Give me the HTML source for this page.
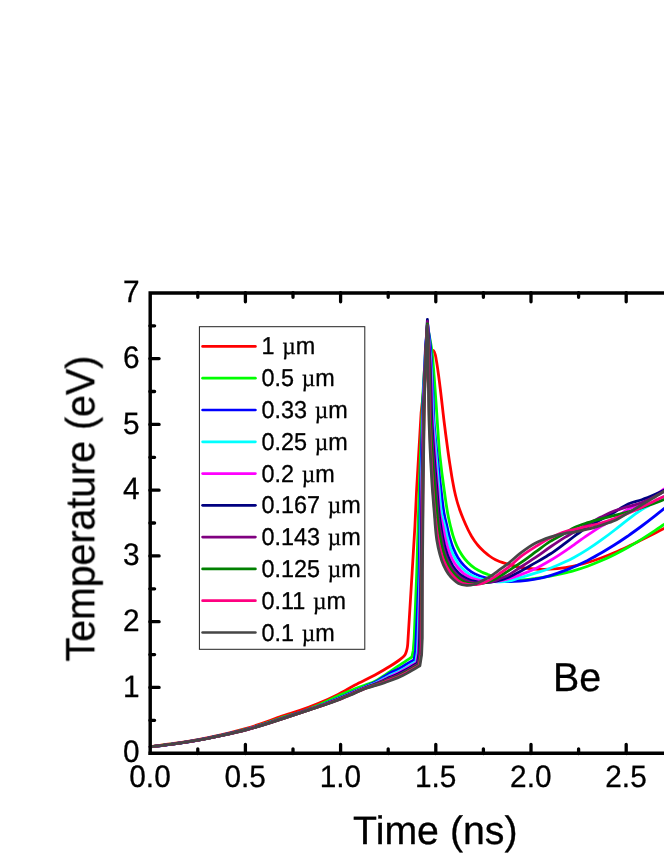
<!DOCTYPE html>
<html><head><meta charset="utf-8"><title>Temperature vs Time (Be)</title>
<style>
html,body{margin:0;padding:0;background:#fff;}
body{width:664px;height:860px;overflow:hidden;font-family:"Liberation Sans",sans-serif;}
svg{display:block;position:absolute;left:0;top:0;}
svg text{text-rendering:geometricPrecision;}
</style></head><body>
<svg width="664" height="860" viewBox="0 0 664 860">
<defs><mask id="tm" maskUnits="userSpaceOnUse" x="0" y="0" width="664" height="860"><rect width="664" height="860" fill="#fff"/></mask></defs>
<rect width="664" height="860" fill="#fff"/>
<g fill="none" stroke-width="2.8" stroke-linejoin="round" stroke-linecap="round">
<path stroke="#ff0000" d="M150.2 746.7C158.1 745.6 166.1 744.7 174 743.5C182.1 742.3 190.2 741.1 198.2 739.6C206.2 738.1 214.1 736.4 222 734.6C230.2 732.7 238.3 730.8 246.4 728.4C254.3 726.1 262.2 723.4 270 720.6C273.3 719.4 276.6 718 280 716.8C286.6 714.4 293.4 712.7 300 710.4C306.1 708.3 312.1 706.1 318 703.6C324.8 700.8 331.5 697.7 338 694.4C343.8 691.5 349.3 688 355 685C361.6 681.5 368.5 678.6 375 675C380.1 672.2 385.1 669.4 390 666.3C392.7 664.6 395.4 662.9 398 661C399.4 660 400.9 659 402.2 657.8C403.3 656.8 404.4 655.7 405.2 654.4C405.9 653.3 406.2 652 406.6 650.7C407 649.3 407.3 647.8 407.5 646.4C407.9 643.6 407.9 640.8 408.1 638L412.1 573L414.9 526.5L416.6 490L421.1 413L424.3 385L426.3 369C427.2 365.1 427.6 361 429 357.2C429.7 355.4 430 353.1 431.3 351.8C431.8 351.3 432.7 350.4 433.2 350.4C433.9 350.4 434.4 352.2 434.8 353.2C435.7 355.2 435.8 357.5 436.2 359.6C437 363.9 437.6 368.3 438.2 372.6C438.9 377.2 439.4 381.9 440 386.5C440.8 392.7 441.5 398.9 442.2 405.1C442.8 410.1 443.3 415 443.9 420C444.5 425 445.2 430 445.8 435C446.5 440 447.1 445 447.8 450C448.5 455 449.2 460 450 465C450.8 470 451.5 475 452.4 480C453 483.3 453.6 486.7 454.3 490C455 493.4 455.8 496.7 456.7 500C457.6 503.4 458.7 506.7 459.8 510C461 513.4 462.3 516.7 463.7 520C465.1 523.4 466.6 526.7 468.2 530C469.2 532 470.3 534 471.4 536C472.4 537.7 473.5 539.4 474.6 541C475.7 542.5 476.9 544.1 478.1 545.5C479.3 546.9 480.6 548.2 481.9 549.5C483.2 550.8 484.5 552 485.9 553.1C487.1 554.1 488.3 555.1 489.5 556C491.4 557.4 493.4 558.7 495.5 559.8C499.4 561.9 503.8 562.9 508 564.2C512 565.4 516 566.5 520.1 567.3C525.1 568.2 530.1 568.7 535.2 569C540.2 569.4 545.2 569.4 550.2 569.2C555.2 569 560.3 568.4 565.3 567.6C570.4 566.9 575.4 565.8 580.4 564.5C582.8 563.9 585.2 563.2 587.6 562.5C592.1 561.2 596.6 559.6 601.1 558C605.7 556.3 610.2 554.5 614.7 552.5C619.2 550.6 623.7 548.5 628.2 546.4C632.8 544.3 637.3 542 641.8 539.8C646.3 537.5 650.8 535.2 655.3 532.9C658.2 531.4 661.1 529.9 664 528.5C669.3 525.8 674.7 523.4 680 520.9"/>
<path stroke="#00ff00" d="M150.2 746.8C158.1 745.8 166.1 744.8 174 743.7C182.1 742.5 190.2 741.3 198.2 739.9C206.2 738.5 214.1 736.8 222 735.1C230.2 733.3 238.3 731.4 246.4 729.2C254.3 727 262.2 724.6 270 721.9C273.4 720.7 276.6 719.4 280 718.2C286.6 715.9 293.4 714.5 300 712.2C306.1 710.1 312.1 707.7 318 705.2C324.8 702.4 331.3 699 338 696C343.6 693.5 349.3 690.9 355 688.7C359 687.2 363 685.9 367 684.4C369.7 683.4 372.4 682.5 375 681.2C378.2 679.6 381 677.5 384 675.6C386 674.3 388 672.9 390 671.6C392.7 669.8 395.3 668 398 666.2C400.8 664.3 403.6 662.5 406.4 660.6C408.2 659.4 410.1 658.2 411.9 657L413.2 650.7L414.2 638L416.7 573L419.5 480L422.5 400L425.5 352L428.8 333C429.8 338.4 430.9 343.8 431.7 349.3C432.6 355.5 433 361.7 433.5 367.9C434 374.1 434.4 380.3 434.9 386.5C435.3 392.7 435.8 398.9 436.2 405.1C436.5 410.1 436.9 415 437.2 420C438 431.7 438.6 443.4 439.8 455C441 466.7 442.5 478.4 444.2 490C445.5 499.4 446.6 508.8 448.6 518C449.1 520.3 449.6 522.7 450.2 525C451.1 528.5 451.9 532.1 453 535.6C454.1 539.1 455.3 542.8 456.9 546.1C458.4 549.4 460.2 552.6 462.3 555.6C463.9 557.9 465.7 560.3 467.7 562.3C469.9 564.6 472.4 566.7 475 568.4C477.3 569.9 479.7 571.1 482.2 572.2C484.1 573.1 486.1 573.7 488 574.5C491.1 575.7 494.1 577.2 497.3 578.1C501.4 579.4 505.7 580.3 510 580.6C514 580.8 518 580.4 522 580C526.4 579.7 530.8 579 535.2 578.5C540.2 577.8 545.2 577.1 550.2 576.2C555.3 575.3 560.3 574.2 565.3 573C568.2 572.2 571.1 571.5 574 570.6C578.6 569.3 583.1 567.8 587.6 566.2C592.2 564.5 596.7 562.7 601.1 560.8C605.7 558.8 610.2 556.7 614.7 554.4C619.3 552.1 623.8 549.7 628.2 547.2C632.8 544.6 637.3 541.9 641.8 539.1C646.4 536.3 650.8 533.4 655.3 530.4C658.2 528.4 661.1 526.4 664 524.5C669.3 520.8 674.7 517.2 680 513.5"/>
<path stroke="#0000ff" d="M150.2 746.9C158.1 745.9 166.1 744.9 174 743.8C182.1 742.6 190.2 741.4 198.2 740C206.2 738.6 214.1 736.9 222 735.2C230.2 733.4 238.3 731.6 246.4 729.4C254.3 727.3 262.2 724.8 270 722.3C274.5 720.9 279.1 719.4 283.6 717.9C288.1 716.4 292.6 714.9 297.1 713.4C301.6 711.9 306.2 710.4 310.7 708.8C315.2 707.2 319.7 705.7 324.2 704C328.8 702.2 333.3 700.3 337.8 698.4C342.3 696.5 346.8 694.5 351.3 692.6C354.2 691.4 357.1 690.3 360 689C362.4 688 364.7 686.9 367 685.8C369.7 684.6 372.4 683.5 375 682.2C378.1 680.6 381 678.6 384 676.8C386 675.6 387.9 674.2 390 673C392.6 671.6 395.4 670.6 398 669.2C400.9 667.7 403.6 665.9 406.4 664.3C408.1 663.3 409.8 662.3 411.5 661.3C412.3 660.8 413.2 660.4 414 659.9L415.5 650.7L416.1 638L419.1 573L420.7 480L423 400L425.6 345L427.6 324C428.5 331 429.6 338 430.3 345C431 352.6 431.3 360.3 431.7 368C432.2 377.3 432.7 386.5 433.1 395.8C433.4 403.9 433.4 411.9 433.9 420C434.6 431.7 435.9 443.3 437.1 455C438.3 466.5 439.5 478 441 489.5C442.2 498.7 442.8 508 444.8 517C445.3 519.3 445.9 521.7 446.5 524C447.6 528.5 448.4 533.1 449.7 537.6C450.8 541.2 451.8 544.9 453.3 548.4C454.6 551.5 456 554.6 457.8 557.4C459.6 560.3 461.7 563.1 464.1 565.6C466.3 567.9 468.7 570.2 471.4 571.9C473.6 573.4 476.1 574.5 478.6 575.5C480.4 576.2 482.2 576.8 484 577.3C486 577.9 488 578.3 490 578.8C493.4 579.6 496.8 580.6 500.3 581.1C502.8 581.4 505.4 581.6 508 581.6C512 581.8 516.1 581.5 520.1 581.2C525.2 580.8 530.2 580.1 535.2 579.2C540.2 578.2 545.3 577 550.2 575.6C555.3 574.1 560.3 572.3 565.3 570.4C568.2 569.3 571.1 568.1 574 566.8C578.6 564.8 583.1 562.6 587.6 560.4C592.2 558 596.7 555.6 601.1 553C605.7 550.4 610.2 547.6 614.7 544.8C619.3 541.9 623.8 538.8 628.2 535.8C632.8 532.6 637.3 529.3 641.8 526C646.4 522.7 650.9 519.2 655.3 515.7C658.2 513.4 661.1 511 664 508.7C669.3 504.4 674.7 500 680 495.7"/>
<path stroke="#00ffff" d="M150.2 746.9C158.1 745.9 166.1 745 174 743.8C182.1 742.7 190.2 741.5 198.2 740.1C206.2 738.6 214.1 737 222 735.3C230.2 733.5 238.3 731.7 246.4 729.5C254.3 727.4 262.2 724.9 270 722.4C274.5 721 279.1 719.5 283.6 718C288.1 716.6 292.6 715.1 297.1 713.5C301.6 712 306.2 710.5 310.7 709C315.2 707.4 319.7 706 324.2 704.3C328.8 702.6 333.3 700.8 337.8 698.9C342.3 697.1 346.8 695.1 351.3 693.2C354.2 692 357.1 690.8 360 689.5C362.3 688.5 364.7 687.5 367 686.5C369.6 685.3 372.4 684.4 375 683.2C378.1 681.8 381 680.2 384 678.6C386 677.5 388 676.3 390 675.3C392.6 674 395.4 673 398 671.7C400.9 670.3 403.6 668.7 406.4 667.1C408.3 666 410.1 664.9 411.9 663.8C413.2 663.1 414.5 662.4 415.8 661.7L417.3 652L418 638L420.1 573L421.5 480L423.4 403L425.6 349.5L427.5 323C428.7 338 430.3 353 431.2 368C432.3 385.3 432 402.7 433.2 420C434 431.7 435.2 443.3 436.2 455C437.2 466.6 438 478.2 439.2 489.8C440.1 499 440.2 508.3 442.4 517.3C443 519.5 443.7 521.7 444.3 524C445.5 528.5 446.2 533.1 447.4 537.6C448.4 541.2 449.3 544.9 450.6 548.4C451.9 551.8 453.3 555.2 455.1 558.3C456.9 561.5 458.9 564.7 461.4 567.4C463.5 569.7 466 572 468.6 573.7C470.9 575.2 473.4 576.3 475.9 577.3C477.9 578.1 480.1 578.7 482.2 579.2C486.2 580.3 490.2 581.1 494.3 581.5C498.8 581.9 503.5 581.9 508 581.2C512.1 580.5 516.1 578.8 520.1 577.7C525.1 576.2 530.2 574.8 535.2 573.2C540.2 571.6 545.3 570 550.2 568.2C555.3 566.3 560.4 564.2 565.3 561.8C568.2 560.5 571.1 559 574 557.4C578.6 555 583.2 552.3 587.6 549.4C592.2 546.5 596.7 543.4 601.1 540.2C605.7 536.9 610.2 533.5 614.7 530C619.2 526.5 623.6 522.8 628.2 519.3C632.7 516 637 512.4 641.8 509.5C644 508.1 646.3 507 648.5 505.7C651.1 504.2 653.4 502.3 656 500.8C658.6 499.3 661.3 498 664 496.5C669.4 493.6 674.7 490.5 680 487.5"/>
<path stroke="#ff00ff" d="M150.2 746.9C158.1 745.9 166.1 745 174 743.8C182.1 742.7 190.2 741.5 198.2 740.1C206.2 738.7 214.1 737.1 222 735.3C230.2 733.6 238.3 731.7 246.4 729.6C254.3 727.5 262.2 725 270 722.5C274.5 721.1 279.1 719.6 283.6 718.1C288.1 716.6 292.6 715.1 297.1 713.6C301.6 712.1 306.2 710.6 310.7 709.1C315.2 707.5 319.7 706.1 324.2 704.5C328.8 702.8 333.3 701 337.8 699.2C342.3 697.4 346.8 695.4 351.3 693.5C354.2 692.3 357.1 691 360 689.8C362.3 688.8 364.6 687.8 367 686.8C369.6 685.7 372.4 684.8 375 683.7C378.1 682.4 381 681 384 679.5C386 678.5 388 677.4 390 676.5C392.6 675.2 395.4 674.2 398 673C400.9 671.6 403.6 670 406.4 668.5C408.3 667.4 410.2 666.2 412.2 665.1C413.7 664.3 415.2 663.4 416.7 662.6L418.2 652.6L418.9 638L420.6 573L421.9 480L423.5 404.5L425.6 351.8L427.5 322.5C428.6 337.7 429.9 352.8 430.7 368C431.6 385.3 431.4 402.7 432.4 420C433.1 431.7 434.1 443.3 435 455C435.9 466.7 436.8 478.3 437.9 490C438.7 499.2 438.4 508.7 440.6 517.6C441.2 519.9 441.9 522.1 442.5 524.3C443.6 528.7 444.2 533.3 445.2 537.7C446.1 541.6 447 545.6 448.3 549.4C449.5 552.8 450.7 556.2 452.4 559.3C453.9 562.2 455.7 565 457.8 567.5C459.7 569.8 461.7 572.1 464.1 573.8C466.1 575.2 468.3 576.4 470.5 577.4C472.8 578.4 475.3 579.2 477.7 579.9C481.1 580.8 484.7 581.7 488.2 581.9C491.4 582.1 494.7 581.7 497.9 581.2C501.3 580.7 504.7 579.8 508 578.9C512.1 577.8 516.1 576.4 520.1 574.9C525.2 573 530.3 571 535.2 568.7C540.3 566.3 545.3 563.4 550.2 560.5C555.3 557.5 560.3 554.2 565.3 550.8C568.2 548.9 571.1 546.8 574 544.8C578.5 541.6 583 538.3 587.6 535.2C592 532.2 596.5 529.2 601.1 526.4C605.6 523.7 610.3 521.4 614.7 518.6C619.3 515.7 623.4 511.8 628.2 509.1C632.5 506.8 637.4 505.4 641.8 503.2C646.4 500.8 650.9 498.1 655.3 495.2C658.3 493.3 661.1 491.2 664 489.2C669.3 485.7 674.7 482.3 680 478.9"/>
<path stroke="#000080" d="M150.2 746.9C158.1 745.9 166.1 745 174 743.9C182.1 742.7 190.2 741.5 198.2 740.1C206.2 738.7 214.1 737.1 222 735.4C230.2 733.6 238.3 731.8 246.4 729.6C254.3 727.5 262.2 725 270 722.6C274.5 721.2 279.1 719.7 283.6 718.2C288.1 716.7 292.6 715.2 297.1 713.7C301.6 712.2 306.2 710.7 310.7 709.1C315.2 707.6 319.7 706.2 324.2 704.6C328.8 702.9 333.3 701.2 337.8 699.4C342.3 697.6 346.8 695.6 351.3 693.7C354.2 692.5 357.1 691.3 360 690C362.3 689 364.6 688 367 687.1C369.6 686 372.4 685.2 375 684.1C378 682.9 381 681.6 384 680.2C386 679.3 388 678.3 390 677.4C392.6 676.2 395.4 675.2 398 674C400.9 672.6 403.6 671.1 406.4 669.6C408.4 668.5 410.4 667.3 412.4 666.1C414 665.2 415.7 664.2 417.4 663.3L419 653.1L419.6 638L421 573L422.2 480L423.7 405.7L425.6 353.6L427.4 319.3C428.3 335.5 429.5 351.8 430.2 368C431 385.3 430.9 402.7 431.8 420C432.4 431.7 433.2 443.3 434.1 455C435 466.7 436 478.3 437 490C437.8 499.2 438.3 508.5 439.6 517.7C439.9 520 440.2 522.3 440.6 524.5C441.3 528.9 442 533.3 442.9 537.7C443.7 541.6 444.4 545.4 445.6 549.2C446.7 552.9 448 556.6 449.7 560C451.2 563.2 452.9 566.4 455.1 569.1C456.9 571.4 459 573.6 461.4 575.4C463.3 576.8 465.5 578 467.7 579C469.7 579.9 471.9 580.6 474.1 581.1C476.7 581.8 479.5 582.4 482.2 582.6C485 582.7 487.9 582.4 490.7 582.1C493.5 581.7 496.3 581.2 499.1 580.4C502.1 579.7 505.1 578.7 508 577.5C512.2 575.9 516.1 573.5 520.1 571.4C525.2 568.7 530.2 565.7 535.2 562.9C540.2 559.9 545.3 557.2 550.2 554C555.4 550.6 560.3 546.8 565.3 543.1C568.2 540.9 571.1 538.7 574 536.5C576.3 534.8 578.5 533.1 580.8 531.5C583 529.9 585.3 528.4 587.6 526.9C591.9 524.2 596.6 522 601.1 519.5C605.6 517 610.3 514.8 614.7 512.1C617 510.7 619.1 509.1 621.4 507.7C623.6 506.4 625.9 505.1 628.2 504C632.5 502.1 637.3 501.3 641.8 499.7C646.4 498.1 650.9 496.2 655.3 494.3C658.2 493 661.1 491.7 664 490.3C669.4 487.8 674.7 485.2 680 482.6"/>
<path stroke="#800080" d="M150.2 746.9C158.1 745.9 166.1 745 174 743.9C182.1 742.7 190.2 741.6 198.2 740.1C206.2 738.7 214.1 737.1 222 735.4C230.2 733.6 238.3 731.8 246.4 729.7C254.3 727.6 262.2 725.1 270 722.6C274.5 721.2 279.1 719.7 283.6 718.2C288.1 716.8 292.6 715.2 297.1 713.7C301.6 712.2 306.2 710.7 310.7 709.2C315.2 707.7 319.7 706.3 324.2 704.7C328.8 703.1 333.3 701.4 337.8 699.6C342.3 697.8 346.8 695.9 351.3 694C354.2 692.7 357.1 691.5 360 690.2C362.3 689.3 364.6 688.2 367 687.3C369.6 686.3 372.4 685.5 375 684.5C378 683.4 381 682.2 384 680.9C386 680.1 388 679.2 390 678.3C392.7 677.2 395.4 676.2 398 675C400.9 673.7 403.6 672.2 406.4 670.7C408.5 669.6 410.5 668.3 412.5 667.2C414.4 666.1 416.2 665 418.1 664L419.7 653.6L420.4 638L421.4 573L422.5 480L423.8 406.9L425.6 355.4L427.4 321.5C428.2 337 429.1 352.5 429.7 368C430.4 385.3 430.3 402.7 431.1 420C431.6 431.7 432.4 443.3 433.2 455C434 466.7 435 478.3 436 490C436.8 499.3 437.5 508.6 438.5 517.9C438.8 520.2 439 522.5 439.3 524.7C439.9 529.1 440.8 533.5 441.6 537.9C442.3 541.6 442.8 545.5 443.8 549.1C444.8 552.8 445.9 556.5 447.4 559.9C448.8 563.1 450.4 566.2 452.4 569C454.2 571.6 456.2 574.2 458.7 576.2C460.6 577.7 462.8 579 465 580C466.8 580.8 468.6 581.6 470.5 582C473.1 582.7 475.9 582.9 478.6 583C481 583 483.4 583 485.8 582.7C488.3 582.4 490.7 582 493.1 581.4C495.6 580.7 497.9 579.5 500.3 578.5C502.9 577.4 505.5 576.5 508 575.2C512.3 573.1 516.1 570.1 520.1 567.5C525.2 564.2 530.2 561 535.2 557.6C540.3 554.2 545.1 550.5 550.2 547C555.2 543.6 560.2 540.2 565.3 537.1C570.2 534.1 575.4 531.4 580.4 528.5C583.6 526.7 586.8 524.8 590 523C593.7 521 597.4 519 601.1 517.1C605.6 514.8 610 512.5 614.7 510.8C619.1 509.1 623.7 508.1 628.2 506.7C632.7 505.3 637.4 504.2 641.8 502.5C646.4 500.7 650.9 498.4 655.3 496.2C658.2 494.7 661.1 493.1 664 491.6C669.3 488.8 674.7 486.3 680 483.6"/>
<path stroke="#008000" d="M150.2 746.9C158.1 745.9 166.1 745 174 743.9C182.1 742.7 190.2 741.6 198.2 740.2C206.2 738.8 214.1 737.1 222 735.4C230.2 733.7 238.3 731.9 246.4 729.7C254.3 727.6 262.2 725.2 270 722.7C274.5 721.3 279.1 719.8 283.6 718.3C288.1 716.8 292.6 715.3 297.1 713.8C301.6 712.3 306.2 710.8 310.7 709.3C315.2 707.8 319.7 706.4 324.2 704.8C328.8 703.2 333.3 701.6 337.8 699.8C342.3 698.1 346.8 696.1 351.3 694.2C354.2 693 357.1 691.7 360 690.4C362.3 689.5 364.6 688.4 367 687.6C369.6 686.6 372.3 685.8 375 684.9C378 683.9 381 682.8 384 681.6C386 680.8 388 680 390 679.2C392.7 678.1 395.4 677.1 398 675.9C400.9 674.6 403.7 673.2 406.4 671.7C408.5 670.6 410.6 669.3 412.7 668.1C414.7 666.9 416.7 665.8 418.7 664.6L420.4 654.1L421.1 638L421.7 573L422.8 480L424 408L425.6 357L427.4 323.8C428 338.5 428.7 353.3 429.2 368C429.8 385.3 429.7 402.7 430.4 420C430.9 431.7 431.5 443.3 432.2 455C433 466.7 433.9 478.3 434.9 490C435.7 499.3 436.5 508.7 437.4 518C437.6 520.3 437.8 522.7 438.1 525C438.6 529.4 439.4 533.7 440.2 538.1C440.9 541.8 441.5 545.6 442.5 549.2C443.5 553.1 444.5 557 446.1 560.6C447.4 563.6 448.8 566.5 450.6 569.2C452.2 571.6 453.9 574 456 576C457.6 577.6 459.5 579.1 461.4 580.3C462.8 581.2 464.3 582 465.9 582.6C467.5 583.2 469.3 583.5 471 583.7C472.7 583.9 474.5 583.8 476.2 583.7C478.6 583.7 481.1 583.6 483.4 583.2C486.3 582.7 489.2 581.6 491.9 580.4C494.8 579.2 497.6 577.5 500.3 575.9C502.9 574.4 505.4 572.7 508 571.1C512.1 568.5 516.1 565.9 520.1 563.2C525.2 559.7 530.2 555.9 535.2 552.2C540.2 548.6 545 544.7 550.2 541.4C555.1 538.3 560.3 535.9 565.3 533C568.2 531.3 571 529.3 574 527.8C578.3 525.6 583 524.2 587.6 522.7C592 521.2 596.6 520 601.1 518.8C605.6 517.6 610.2 516.5 614.7 515.3C619.2 514.2 623.7 513.1 628.2 511.8C632.8 510.5 637.3 509.2 641.8 507.7C646.3 506.2 650.8 504.7 655.3 503C658.2 501.9 661.1 500.8 664 499.6C669.4 497.4 674.7 495.1 680 492.8"/>
<path stroke="#ff0080" d="M150.2 746.9C158.1 745.9 166.1 745 174 743.9C182.1 742.8 190.2 741.6 198.2 740.2C206.2 738.8 214.1 737.2 222 735.5C230.2 733.7 238.3 731.9 246.4 729.8C254.3 727.7 262.2 725.2 270 722.8C274.5 721.3 279.1 719.8 283.6 718.4C288.1 716.9 292.6 715.3 297.1 713.9C301.6 712.3 306.2 710.8 310.7 709.3C315.2 707.9 319.7 706.4 324.2 704.9C328.8 703.3 333.3 701.8 337.8 700C342.3 698.3 346.8 696.3 351.3 694.4C354.2 693.2 357.1 691.8 360 690.6C362.3 689.6 364.6 688.6 367 687.8C369.6 686.8 372.3 686.1 375 685.3C378 684.3 381 683.3 384 682.2C386 681.5 388 680.7 390 679.9C392.7 678.9 395.4 677.9 398 676.8C400.8 675.5 403.7 674.1 406.4 672.7C408.6 671.5 410.7 670.2 412.9 668.9C415 667.7 417.2 666.5 419.3 665.2L421 654.5L421.7 638L422.1 573L423 480L424.1 409L425.6 358.5L427.4 326C427.8 340 428.3 354 428.6 368C429 385.3 429 402.7 429.5 420C429.9 431.7 430.3 443.3 430.9 455C431.5 466.7 432.2 478.3 433 490C433.7 499.3 434.3 508.7 435.3 518C435.6 520.3 435.8 522.7 436.1 525C436.7 529.5 437.2 534.1 438 538.6C438.7 542.7 439.5 546.8 440.6 550.8C441.5 554.3 442.5 557.8 443.9 561.1C445.2 564.2 446.7 567.2 448.5 570C450 572.2 451.7 574.4 453.6 576.4C455.1 578 456.6 579.6 458.3 580.8C459.5 581.6 460.8 582.5 462.1 583C463.3 583.5 464.7 583.8 466 584C467.4 584.3 468.8 584.3 470.2 584.3C472.2 584.4 474.2 584.6 476.2 584.5C479 584.2 481.9 583.4 484.6 582.4C487.6 581.3 490.4 579.5 493.1 577.9C495.6 576.4 497.9 574.7 500.3 573C502.9 571.3 505.5 569.6 508 567.7C512.3 564.4 515.9 560.4 520.1 557.1C524.9 553.4 530.1 550.1 535.2 546.9C540.1 543.8 545 540.6 550.2 538C555.1 535.6 560.1 533.2 565.3 531.6C568.1 530.7 571.1 530.2 574 529.5C578.5 528.4 583.1 527.4 587.6 526.3C592.1 525.2 596.7 524.4 601.1 523.1C605.7 521.8 610.2 520.1 614.7 518.5C619.2 516.8 623.7 515 628.2 513.2C632.8 511.3 637.3 509.3 641.8 507.2C646.3 505 650.8 502.6 655.3 500.4C658.2 499.1 661.1 497.9 664 496.5C669.4 494 674.7 491.1 680 488.4"/>
<path stroke="#464646" d="M150.2 746.9C158.1 745.9 166.1 745 174 743.9C182.1 742.8 190.2 741.6 198.2 740.2C206.2 738.8 214.1 737.2 222 735.5C230.2 733.7 238.3 731.9 246.4 729.8C254.3 727.7 262.2 725.3 270 722.8C274.5 721.4 279.1 719.9 283.6 718.4C288.1 716.9 292.6 715.4 297.1 713.9C301.6 712.4 306.2 710.9 310.7 709.4C315.2 707.9 319.7 706.5 324.2 705C328.8 703.5 333.3 701.9 337.8 700.2C342.3 698.5 346.8 696.5 351.3 694.6C354.2 693.4 357.1 692 360 690.8C362.3 689.8 364.6 688.8 367 688C369.6 687.1 372.3 686.4 375 685.6C378 684.7 381 683.8 384 682.8C386 682.1 388 681.4 390 680.7C392.7 679.7 395.4 678.7 398 677.6C400.8 676.4 403.7 675.1 406.4 673.6C408.6 672.4 410.8 671.1 413 669.8C415.3 668.5 417.6 667.1 419.9 665.8L421.6 654.9L422.3 638L422.4 573L423.3 480L424.2 410L425.6 360L427.3 325.2C427.6 339.5 427.9 353.7 428.2 368C428.5 385.3 428.5 402.7 429 420C429.4 431.7 429.8 443.3 430.4 455C431 466.7 431.6 478.3 432.4 490C433.1 499.3 434 508.7 434.7 518C434.9 520.3 435 522.7 435.2 525C435.6 530 436 535 436.8 540C437.6 544.8 438.5 549.6 439.8 554.2C440.8 557.9 441.9 561.7 443.5 565.2C444.8 568.1 446.3 571 448.2 573.6C449.7 575.7 451.5 577.8 453.4 579.5C455 581 456.6 582.5 458.5 583.4C460.9 584.6 463.9 585.1 466.6 585.3C469 585.4 471.5 585.1 473.8 584.5C476.7 583.8 479.5 582.1 482.2 580.7C485.1 579.3 488 577.8 490.7 576.1C494 574 497.1 571.5 500.3 569.2C502.9 567.4 505.5 565.6 508 563.6C512.2 560.4 515.9 556.6 520.1 553.4C524.9 549.7 529.8 546 535.2 543.2C539.9 540.7 545.1 538.8 550.2 537.1C555.1 535.5 560.2 534.1 565.3 533.3C568.2 532.8 571.1 532.7 574 532.2C578.6 531.5 583.1 530.4 587.6 529.2C592.1 528.1 596.6 526.7 601.1 525.3C605.7 523.8 610.3 522.6 614.7 520.6C619.4 518.5 623.7 515.5 628.2 512.9C632.8 510.3 637.3 507.5 641.8 504.8C646.3 502.2 650.8 499.5 655.3 496.8C658.2 495 661.1 493.1 664 491.3C669.4 487.9 674.7 484.4 680 481"/>
</g>
<g stroke="#000" stroke-width="3.45" fill="none" stroke-linecap="butt">
<path d="M150.2 754.9 V292.9 H700"/>
<path d="M148.5 753.2 H700"/>
<path stroke-width="3.3" stroke-linecap="round" d="M197.8 753.5 v-4.7M197.8 292.6 v4.7M245.4 753.5 v-9.2M245.4 292.6 v9.2M293 753.5 v-4.7M293 292.6 v4.7M340.6 753.5 v-9.2M340.6 292.6 v9.2M388.2 753.5 v-4.7M388.2 292.6 v4.7M435.8 753.5 v-9.2M435.8 292.6 v9.2M483.4 753.5 v-4.7M483.4 292.6 v4.7M531 753.5 v-9.2M531 292.6 v9.2M578.6 753.5 v-4.7M578.6 292.6 v4.7M626.2 753.5 v-9.2M626.2 292.6 v9.2M673.8 753.5 v-4.7M673.8 292.6 v4.7M149.9 720.3 h4.7M149.9 687.4 h9.2M149.9 654.6 h4.7M149.9 621.7 h9.2M149.9 588.8 h4.7M149.9 555.9 h9.2M149.9 523 h4.7M149.9 490.2 h9.2M149.9 457.3 h4.7M149.9 424.4 h9.2M149.9 391.5 h4.7M149.9 358.6 h9.2M149.9 325.8 h4.7"/>
</g>
<g mask="url(#tm)" stroke="#000" stroke-width="0.3" stroke-linejoin="round" font-family="'Liberation Sans', sans-serif" fill="#000">
<text transform="translate(150 786.9) scale(1 1.04)" font-size="29.8" text-anchor="middle">0.0</text>
<text transform="translate(245.2 786.9) scale(1 1.04)" font-size="29.8" text-anchor="middle">0.5</text>
<text transform="translate(340.4 786.9) scale(1 1.04)" font-size="29.8" text-anchor="middle">1.0</text>
<text transform="translate(435.6 786.9) scale(1 1.04)" font-size="29.8" text-anchor="middle">1.5</text>
<text transform="translate(530.8 786.9) scale(1 1.04)" font-size="29.8" text-anchor="middle">2.0</text>
<text transform="translate(626 786.9) scale(1 1.04)" font-size="29.8" text-anchor="middle">2.5</text>
<text transform="translate(139.6 762.4) scale(1 1.04)" font-size="29.8" text-anchor="end">0</text>
<text transform="translate(139.6 696.6) scale(1 1.04)" font-size="29.8" text-anchor="end">1</text>
<text transform="translate(139.6 630.9) scale(1 1.04)" font-size="29.8" text-anchor="end">2</text>
<text transform="translate(139.6 565.1) scale(1 1.04)" font-size="29.8" text-anchor="end">3</text>
<text transform="translate(139.6 499.4) scale(1 1.04)" font-size="29.8" text-anchor="end">4</text>
<text transform="translate(139.6 433.6) scale(1 1.04)" font-size="29.8" text-anchor="end">5</text>
<text transform="translate(139.6 367.8) scale(1 1.04)" font-size="29.8" text-anchor="end">6</text>
<text transform="translate(139.6 302.1) scale(1 1.04)" font-size="29.8" text-anchor="end">7</text>
<text transform="translate(353.1 843.9) scale(1 1.012)" font-size="39.3" text-anchor="start">Time (ns)</text>
<text transform="translate(94.7 661.5) rotate(-90) scale(1 1.04)" font-size="39.3" text-anchor="start">Temperature (eV)</text>
<text transform="translate(553 691) scale(1 1.03)" font-size="39.3" text-anchor="start">Be</text>
</g>
<rect x="199.4" y="326.7" width="165.4" height="322.6" fill="#fff" stroke="#222" stroke-width="1"/>
<g stroke-width="2.7" stroke-linecap="round">
<path stroke="#ff0000" d="M202.6 346.4 H255.4"/>
<path stroke="#00ff00" d="M202.6 378.2 H255.4"/>
<path stroke="#0000ff" d="M202.6 410 H255.4"/>
<path stroke="#00ffff" d="M202.6 441.8 H255.4"/>
<path stroke="#ff00ff" d="M202.6 473.6 H255.4"/>
<path stroke="#000080" d="M202.6 505.3 H255.4"/>
<path stroke="#800080" d="M202.6 537.1 H255.4"/>
<path stroke="#008000" d="M202.6 568.9 H255.4"/>
<path stroke="#ff0080" d="M202.6 600.7 H255.4"/>
<path stroke="#464646" d="M202.6 632.5 H255.4"/>
</g>
<g mask="url(#tm)" stroke="#000" stroke-width="0.3" stroke-linejoin="round" font-family="'Liberation Sans', sans-serif" fill="#000">
<text transform="translate(261.5 354.2) scale(1 1.04)" font-size="23.4" text-anchor="start" xml:space="preserve">1 <tspan dx="1.3" font-family="'Liberation Serif', serif">µ</tspan>m</text>
<text transform="translate(261.5 386) scale(1 1.04)" font-size="23.4" text-anchor="start" xml:space="preserve">0.5 <tspan dx="1.3" font-family="'Liberation Serif', serif">µ</tspan>m</text>
<text transform="translate(261.5 417.9) scale(1 1.04)" font-size="23.4" text-anchor="start" xml:space="preserve">0.33 <tspan dx="1.3" font-family="'Liberation Serif', serif">µ</tspan>m</text>
<text transform="translate(261.5 449.7) scale(1 1.04)" font-size="23.4" text-anchor="start" xml:space="preserve">0.25 <tspan dx="1.3" font-family="'Liberation Serif', serif">µ</tspan>m</text>
<text transform="translate(261.5 481.5) scale(1 1.04)" font-size="23.4" text-anchor="start" xml:space="preserve">0.2 <tspan dx="1.3" font-family="'Liberation Serif', serif">µ</tspan>m</text>
<text transform="translate(261.5 513.3) scale(1 1.04)" font-size="23.4" text-anchor="start" xml:space="preserve">0.167 <tspan dx="1.3" font-family="'Liberation Serif', serif">µ</tspan>m</text>
<text transform="translate(261.5 545.2) scale(1 1.04)" font-size="23.4" text-anchor="start" xml:space="preserve">0.143 <tspan dx="1.3" font-family="'Liberation Serif', serif">µ</tspan>m</text>
<text transform="translate(261.5 577) scale(1 1.04)" font-size="23.4" text-anchor="start" xml:space="preserve">0.125 <tspan dx="1.3" font-family="'Liberation Serif', serif">µ</tspan>m</text>
<text transform="translate(261.5 608.8) scale(1 1.04)" font-size="23.4" text-anchor="start" xml:space="preserve">0.11 <tspan dx="1.3" font-family="'Liberation Serif', serif">µ</tspan>m</text>
<text transform="translate(261.5 640.7) scale(1 1.04)" font-size="23.4" text-anchor="start" xml:space="preserve">0.1 <tspan dx="1.3" font-family="'Liberation Serif', serif">µ</tspan>m</text>
</g>
</svg>
</body></html>
